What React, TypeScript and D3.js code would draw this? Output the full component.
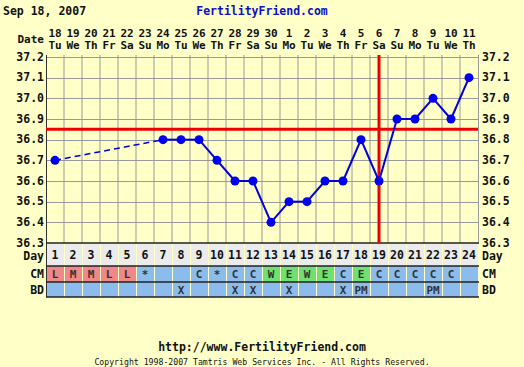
import React from "react";
import * as d3 from "d3";

const dayNums = ["1","2","3","4","5","6","7","8","9","10","11","12","13","14","15","16","17","18","19","20","21","22","23","24"];
const dates = ["18","19","20","21","22","23","24","25","26","27","28","29","30","1","2","3","4","5","6","7","8","9","10","11"];
const weekdays = ["Tu","We","Th","Fr","Sa","Su","Mo","Tu","We","Th","Fr","Sa","Su","Mo","Tu","We","Th","Fr","Sa","Su","Mo","Tu","We","Th"];
const temps: (number | null)[] = [36.7, null, null, null, null, null, 36.8, 36.8, 36.8, 36.7, 36.6, 36.6, 36.4, 36.5, 36.5, 36.6, 36.6, 36.8, 36.6, 36.9, 36.9, 37.0, 36.9, 37.1];
const cm = ["L","M","M","L","L","*","","","C","*","C","C","W","E","W","E","C","E","C","C","C","C","C",""];
const bd = ["","","","","","","","X","","","X","X","","X","","","X","PM","","","","PM","",""];
const yTicks = [37.2, 37.1, 37.0, 36.9, 36.8, 36.7, 36.6, 36.5, 36.4, 36.3];
const coverline = 36.85;
const ovulationDay = 19;
const chartDate = "Sep 18, 2007";
const siteName = "FertilityFriend.com";
const siteUrl = "http://www.FertilityFriend.com";
const copyright = "Copyright 1998-2007 Tamtris Web Services Inc. - All Rights Reserved.";

const W = 524, H = 367;
const FONT = "'DejaVu Sans Mono', monospace";
const BG = "#ffffc8";

export default function App() {
  const x = d3.scaleLinear().domain([1, 24]).range([55, 469]);
  const y = d3.scaleLinear().domain([36.3, 37.2]).range([243, 57]);
  const colW = 18;
  const left = x(1) - colW / 2;
  const right = x(24) + colW / 2;
  const top = 55;
  const bottom = y(36.3);
  const dayRowB = 266, cmRowB = 282, bdRowB = 297;

  const pts = temps.map((t, i) => ({ d: i + 1, t })).filter(p => p.t !== null) as { d: number; t: number }[];
  const line = d3.line<{ d: number; t: number }>().x(p => x(p.d)).y(p => y(p.t));
  const solidSegs: { d: number; t: number }[][] = [];
  const dashSegs: { d: number; t: number }[][] = [];
  for (let i = 1; i < pts.length; i++) {
    const a = pts[i - 1], b = pts[i];
    if (b.d - a.d === 1) solidSegs.push([a, b]);
    else dashSegs.push([a, b]);
  }

  const cmColor = (c: string) => (c === "L" || c === "M" || c === "H") ? "#f08888" : (c === "W" || c === "E") ? "#70e070" : "#8cbcec";

  return (
    <svg width={W} height={H} style={{ position: "absolute", left: 0, top: 0, background: BG }} fontFamily={FONT}>
      <rect x={0} y={0} width={W} height={H} fill={BG} />
      <text x={3} y={15} fontSize={11.5} fontWeight="bold" fill="#111">{chartDate}</text>
      <text x={262} y={15} fontSize={11.5} fontWeight="bold" fill="#1010c0" textAnchor="middle">{siteName}</text>

      <text x={44} y={43} fontSize={11} fontWeight="bold" textAnchor="end" fill="#111">Date</text>
      {dates.map((d, i) => (
        <text key={"dt" + i} x={x(i + 1)} y={36.5} fontSize={11} fontWeight="bold" textAnchor="middle" fill="#111">{d}</text>
      ))}
      {weekdays.map((d, i) => (
        <text key={"wd" + i} x={x(i + 1)} y={49} fontSize={11} fontWeight="bold" textAnchor="middle" fill="#111">{d}</text>
      ))}

      {dayNums.slice(1).map((_, i) => (
        <line key={"vg" + i} x1={left + (i + 1) * colW} x2={left + (i + 1) * colW} y1={top} y2={bottom} stroke="#999" strokeWidth={1} />
      ))}
      {yTicks.slice(0, -1).map((t, i) => (
        <line key={"hg" + i} x1={left} x2={right} y1={Math.round(y(t)) + 0.5} y2={Math.round(y(t)) + 0.5} stroke="#999" strokeWidth={1} />
      ))}
      <line x1={right + 0.5} x2={right + 0.5} y1={top} y2={bottom} stroke="#999" />
      <line x1={left + 0.5} x2={left + 0.5} y1={top} y2={bdRowB} stroke="#333" />

      {yTicks.map((t, i) => (
        <g key={"yl" + i}>
          <text x={44} y={y(t) + 3.5} fontSize={11.5} fontWeight="bold" textAnchor="end" fill="#111">{t.toFixed(1)}</text>
          <text x={482} y={y(t) + 3.5} fontSize={11.5} fontWeight="bold" textAnchor="start" fill="#111">{t.toFixed(1)}</text>
        </g>
      ))}

      {dayNums.map((d, i) => (
        <g key={"row" + i}>
          <rect x={left + i * colW + 1} y={bottom} width={colW - 1} height={dayRowB - bottom} fill="#ebebeb" />
          <rect x={left + i * colW + 1} y={dayRowB} width={colW - 1} height={cmRowB - dayRowB} fill={cmColor(cm[i])} />
          <rect x={left + i * colW + 1} y={cmRowB} width={colW - 1} height={bdRowB - cmRowB} fill="#8cbcec" />
          <text x={x(i + 1)} y={259} fontSize={11.5} fontWeight="bold" textAnchor="middle" fill="#111">{d}</text>
          <text x={x(i + 1)} y={278} fontSize={11} fontWeight="bold" textAnchor="middle" fill="#333">{cm[i]}</text>
          <text x={x(i + 1)} y={294} fontSize={11} fontWeight="bold" textAnchor="middle" fill="#333">{bd[i]}</text>
        </g>
      ))}
      {[bottom, dayRowB, cmRowB, bdRowB].map((yy, i) => (
        <line key={"rb" + i} x1={left} x2={right + 1} y1={yy} y2={yy} stroke="#222" strokeWidth={1.5} />
      ))}
      <text x={44} y={259.5} fontSize={11.5} fontWeight="bold" textAnchor="end" fill="#111">Day</text>
      <text x={482} y={259.5} fontSize={11.5} fontWeight="bold" fill="#111">Day</text>
      <text x={44} y={278} fontSize={11.5} fontWeight="bold" textAnchor="end" fill="#111">CM</text>
      <text x={482} y={278} fontSize={11.5} fontWeight="bold" fill="#111">CM</text>
      <text x={44} y={294} fontSize={11.5} fontWeight="bold" textAnchor="end" fill="#111">BD</text>
      <text x={482} y={294} fontSize={11.5} fontWeight="bold" fill="#111">BD</text>

      <line x1={left} x2={right} y1={y(coverline)} y2={y(coverline)} stroke="#ee0000" strokeWidth={3} />
      <line x1={x(ovulationDay)} x2={x(ovulationDay)} y1={top} y2={bottom} stroke="#ee0000" strokeWidth={3} />

      {dashSegs.map((s, i) => (
        <path key={"ds" + i} d={line(s) || ""} fill="none" stroke="#0000dd" strokeWidth={1.5} strokeDasharray="6,4" />
      ))}
      {solidSegs.map((s, i) => (
        <path key={"ss" + i} d={line(s) || ""} fill="none" stroke="#0000dd" strokeWidth={2} />
      ))}
      {pts.map((p, i) => (
        <circle key={"pt" + i} cx={x(p.d)} cy={y(p.t)} r={4.5} fill="#0000ee" />
      ))}

      <text x={262} y={351} fontSize={11.5} fontWeight="bold" textAnchor="middle" fill="#111">{siteUrl}</text>
      <text x={262} y={365} fontSize={8.2} textAnchor="middle" fill="#111">{copyright}</text>
    </svg>
  );
}
